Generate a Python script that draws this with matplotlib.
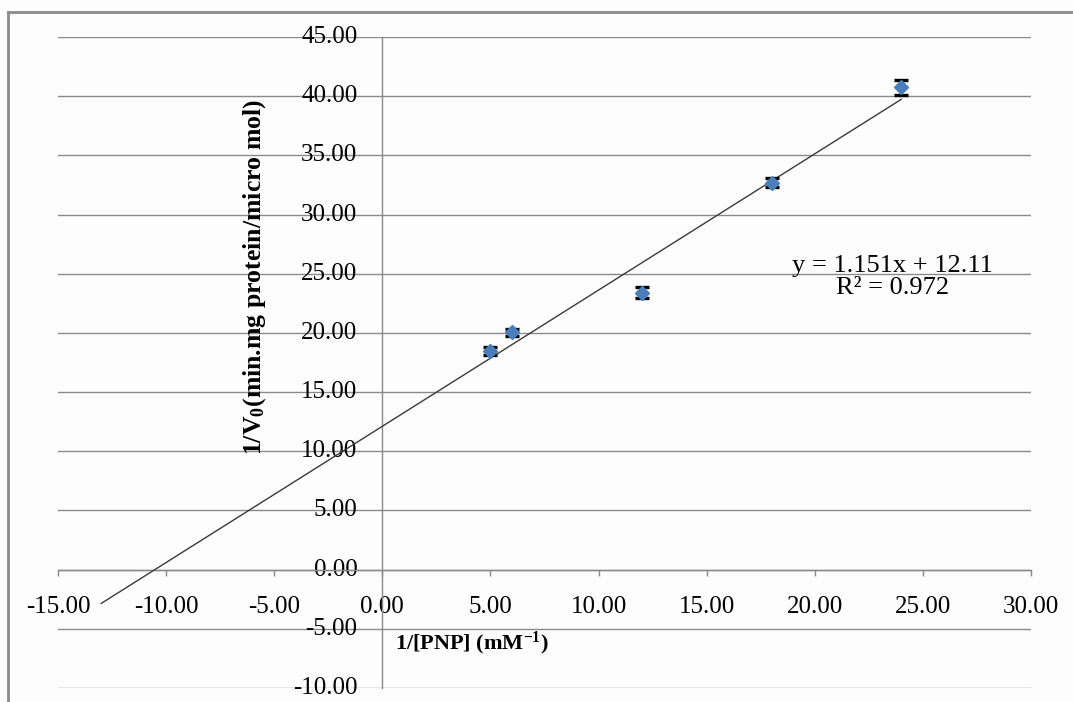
import numpy as np
import matplotlib.pyplot as plt
from matplotlib.lines import Line2D

plt.rcParams['font.family'] = ['Liberation Serif', 'DejaVu Serif']
plt.rcParams['mathtext.fontset'] = 'custom'
plt.rcParams['mathtext.rm'] = 'Liberation Serif:bold'
plt.rcParams['mathtext.it'] = 'Liberation Serif:bold'
plt.rcParams['mathtext.bf'] = 'Liberation Serif:bold'
plt.rcParams['axes.unicode_minus'] = False

# Lineweaver-Burk data: 1/[PNP] against 1/V0
inv_pnp = [5.0, 6.0, 12.0, 18.0, 24.0]
inv_v0 = [18.5, 20.05, 23.4, 32.7, 40.75]
inv_v0_err = [0.35, 0.32, 0.45, 0.35, 0.65]

# linear trendline as reported on the chart
slope = 1.151
intercept = 12.11
r_squared = 0.972
fit_x = [-13.0, 24.0]

x_ticks = np.arange(-15, 31, 5)
y_ticks = np.arange(-10, 46, 5)

grid_grey = '#8a8a8a'
point_blue = '#4A7EBB'

fig = plt.figure(figsize=(10.73, 7.02), dpi=100)
fig.patch.set_facecolor('#fdfdfd')
ax = fig.add_axes([58 / 1073, 1 - 688 / 702, 973 / 1073, 651 / 702])
ax.set_facecolor('none')

ax.set_xlim(-15, 30)
ax.set_ylim(-10, 45)

# horizontal gridlines
for yv in y_ticks:
    ax.axhline(yv, color=grid_grey, lw=1.0, zorder=1)

# axes cross at the origin
for side in ['top', 'right']:
    ax.spines[side].set_visible(False)
ax.spines['left'].set_position(('data', 0))
ax.spines['bottom'].set_position(('data', 0))
ax.spines['left'].set_color(grid_grey)
ax.spines['bottom'].set_color(grid_grey)
ax.spines['left'].set_linewidth(1.0)
ax.spines['bottom'].set_linewidth(1.0)

ax.set_xticks(x_ticks)
ax.set_yticks(y_ticks)
ax.set_xticklabels(['{:.2f}'.format(v) for v in x_ticks])
ax.set_yticklabels(['{:.2f}'.format(v) for v in y_ticks])
ax.tick_params(axis='x', direction='out', length=4, width=1.0, color=grid_grey,
               labelsize=18, pad=15)
ax.tick_params(axis='y', length=0, labelsize=18, pad=18)
for lab in ax.get_yticklabels():
    lab.set_verticalalignment('center')

# trendline
fx = np.array(fit_x)
ax.plot(fx, slope * fx + intercept, color='#3a3a3a', lw=1.0, zorder=3)

# data points with error bars
ax.errorbar(inv_pnp, inv_v0, yerr=inv_v0_err, fmt='D', ms=7.5,
            mfc=point_blue, mec=point_blue, ecolor='black', elinewidth=1.6,
            capsize=5, capthick=2.4, zorder=4)

eq_text = 'y = {:.3f}x + {:.2f}\nR\u00b2 = {:.3f}'.format(slope, intercept, r_squared)
ax.text(23.6, 24.7, eq_text, ha='center', va='center', fontsize=19,
        linespacing=1.0, zorder=5)

fig.text(255 / 1073, 1 - 277 / 702, r'1/V$_0$(min.mg protein/micro mol)',
         rotation=90, ha='center', va='center', fontsize=18.5, fontweight='bold')
fig.text(472 / 1073, 1 - 643 / 702, r'1/[PNP] (mM$^{-1}$)',
         ha='center', va='center', fontsize=16, fontweight='bold')

# outer chart frame
fig.add_artist(Line2D([8 / 1073, 1.0], [1 - 12 / 702, 1 - 12 / 702],
                      transform=fig.transFigure, color=grid_grey, lw=2.0))
fig.add_artist(Line2D([8 / 1073, 8 / 1073], [0.0, 1 - 12 / 702],
                      transform=fig.transFigure, color=grid_grey, lw=2.0))

fig.savefig('out.png', dpi=100, facecolor=fig.get_facecolor())
